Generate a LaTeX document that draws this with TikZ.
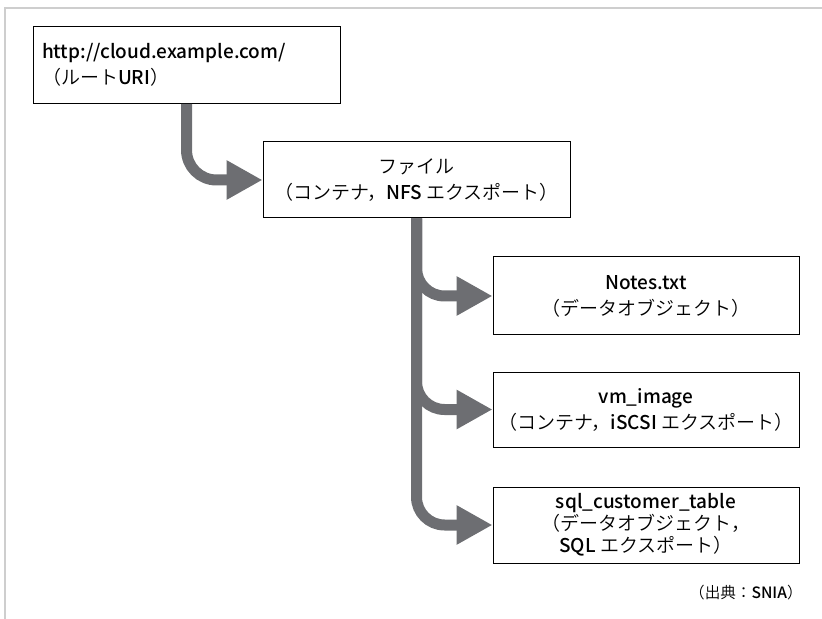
\documentclass[tikz,border=0pt]{standalone}
\usepackage{fontspec}
\setmainfont{Noto Sans CJK JP}[UprightFont={* DemiLight}]
\newfontfamily\latinface{Noto Sans CJK JP}[UprightFont={* Medium}]
\usepackage{tikz}
\usetikzlibrary{arrows.meta}
\definecolor{arrowgray}{RGB}{109,110,114}
\definecolor{framegray}{RGB}{206,206,206}
\newcommand{\arrowcolor}{arrowgray}
\newcommand{\shaft}{5.5pt}
\newcommand{\en}[1]{{\latinface #1}}
\tikzset{
  box/.style={draw=black, line width=0.5pt, fill=white, align=center,
    minimum width=153pt, inner sep=2pt, font=\fontsize{9.5}{13}\selectfont},
  rootbox/.style={box, align=left, text width=144.5pt, inner xsep=4.5pt},
  flow/.style={draw=\arrowcolor, line width=\shaft, rounded corners=14pt,
    -{Triangle[length=18pt,width=18.5pt]}},
}

\begin{document}
\begin{tikzpicture}[x=0.5pt,y=-0.5pt]
\useasboundingbox (0,0) rectangle (822,619);
\draw[framegray, line width=1pt] (5,619) -- (5,8.5) -- (822,8.5);

\node[rootbox, minimum height=38.5pt] (root) at (186.5,65)
  {\en{http://cloud.example.com/}\\（ルート\en{URI}）};
\node[box, minimum width=153.5pt, minimum height=38pt] (file) at (416.5,180)
  {ファイル\\（コンテナ，\en{NFS} エクスポート）};
\node[box, minimum height=39pt] (notes) at (646,296)
  {\en{Notes.txt}\\（データオブジェクト）};
\node[box, minimum height=37.5pt] (vm) at (646,409.5)
  {\en{vm\_image}\\（コンテナ，\en{iSCSI} エクスポート）};
\node[box, minimum height=38pt, font=\fontsize{9.5}{11}\selectfont] (sql) at (646,525)
  {\en{sql\_customer\_table}\\（データオブジェクト，\\\en{SQL} エクスポート）};

%root -> file
\draw[flow, rounded corners=15pt] (root.south) |- (file.west);
%file -> children
\draw[flow] (file.south) |- (notes.west);
\draw[flow] (file.south) |- (vm.west);
\draw[flow] (file.south) |- (sql.west);

\node[anchor=east, inner sep=0pt, font=\fontsize{7.8}{9}\selectfont] (source) at (803,593)
  {（出典：\en{SNIA}）};
\end{tikzpicture}
\end{document}
